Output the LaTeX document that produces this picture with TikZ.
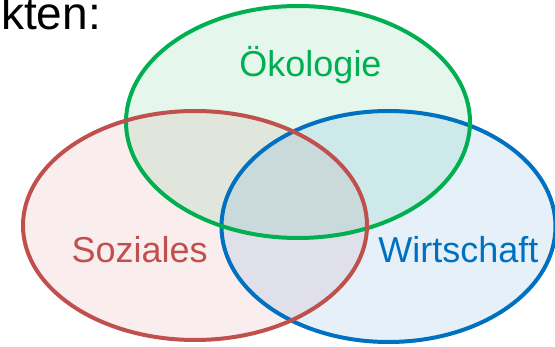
\documentclass[tikz,border=0pt]{standalone}
\usepackage{fontspec}
\setmainfont{Liberation Sans}
\usepackage{tikz}
\usepackage{xcolor}
\definecolor{oekogreen}{HTML}{00B050}
\definecolor{sozred}{HTML}{C0504D}
\definecolor{wirtblue}{HTML}{0070C0}

\begin{document}
\begin{tikzpicture}[x=1pt,y=-1pt,
  rand/.style={line width=4pt},
  flaeche/.style={fill opacity=0.1},
  schrift/.style={font=\fontsize{36}{40}\selectfont, anchor=base, inner sep=0pt}]
\useasboundingbox (0,0) rectangle (555,347);
\fill[oekogreen, flaeche] (298,122) ellipse [x radius=172, y radius=116];
\fill[sozred, flaeche] (195,225.5) ellipse [x radius=172, y radius=114.5];
\fill[wirtblue, flaeche] (388.5,226.5) ellipse [x radius=167, y radius=115.5];
\draw[wirtblue, rand] (388.5,226.5) ellipse [x radius=167, y radius=115.5];
\draw[oekogreen, rand] (298,122) ellipse [x radius=172, y radius=116];
\draw[sozred, rand] (195,225.5) ellipse [x radius=172, y radius=114.5];
\node[schrift, text=oekogreen] (oeko) at (310.5,77) {Ökologie};
\node[schrift, text=sozred] (sozial) at (139.7,263) {Soziales};
\node[schrift, text=wirtblue] (wirt) at (458.3,263) {Wirtschaft};
\node[font=\fontsize{46}{50}\selectfont, anchor=base east, inner sep=0pt] (titel) at (101,30) {kten:};
\end{tikzpicture}
\end{document}
